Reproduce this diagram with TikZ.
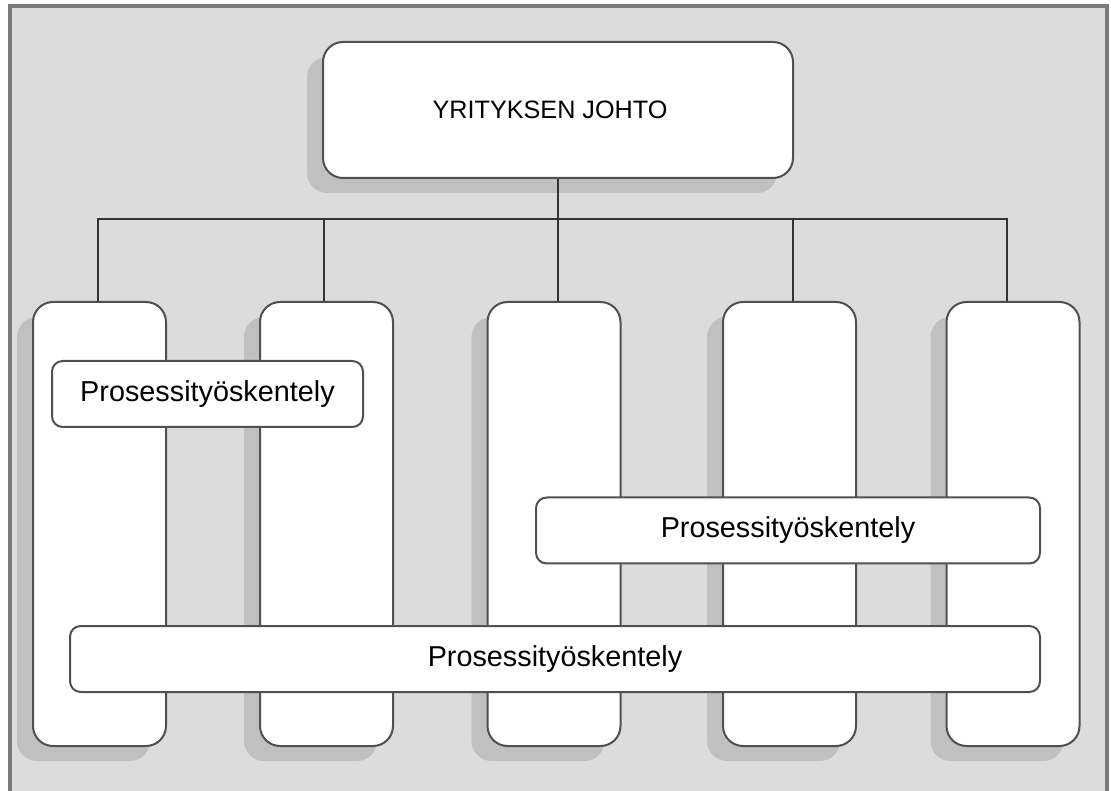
\documentclass[tikz,border=0pt]{standalone}
\usepackage{fontspec}
\setmainfont{Liberation Sans}
\usetikzlibrary{shadows}

\definecolor{paneback}{HTML}{DCDCDC}
\definecolor{shadowgray}{HTML}{C0C0C0}
\definecolor{edgegray}{HTML}{505050}
\definecolor{framegray}{HTML}{7A7A7A}
\definecolor{linegray}{HTML}{333333}

\tikzset{
  unitbox/.style={draw=edgegray, line width=1.5pt, fill=white, rounded corners=15pt,
    inner sep=0pt, anchor=center},
  shadowed/.style={general shadow={fill=shadowgray, shadow xshift=-12pt, shadow yshift=-11.25pt}},
  column/.style={unitbox, shadowed, minimum width=99.75pt, minimum height=333pt},
  headbox/.style={unitbox, shadowed, minimum width=352.5pt, minimum height=102pt,
    font=\fontsize{18.9pt}{22pt}\selectfont},
  procbox/.style={unitbox, rounded corners=8pt, minimum height=49.5pt,
    font=\fontsize{21.6pt}{25pt}\selectfont},
  link/.style={draw=linegray, line width=1.1pt}
}

\begin{document}
\begin{tikzpicture}[x=0.75pt, y=-0.75pt]
  \useasboundingbox (0,0) rectangle (1111,791);

  % window pane
  \fill[paneback] (10,6) rectangle (1107,791);
  \draw[framegray, line width=3pt] (10,791) -- (10,6) -- (1107,6) -- (1107,791);

  % management box
  \node[headbox] (top) at (558,110) {YRITYKSEN JOHTO\hspace*{12pt}};

  % functional columns
  \node[column] (c1) at (99.5,524) {};
  \node[column] (c2) at (326.5,524) {};
  \node[column] (c3) at (554,524) {};
  \node[column] (c4) at (789.5,524) {};
  \node[column] (c5) at (1013,524) {};

  % organisation lines (each drop meets its column slightly off centre)
  \coordinate (bus) at (558,219);
  \draw[link] (top.south) -- (bus);
  \foreach \c/\dx in {c1/-1.5,c2/-2.5,c3/4,c4/3.5,c5/-6}
    \draw[link] (bus) -| ([xshift=\dx*0.75pt]\c.north);

  % process work across the columns
  \node[procbox, minimum width=233.25pt] (p1) at (207.5,394) {Prosessityöskentely};
  \node[procbox, minimum width=378pt] (p2) at (788,530.5) {Prosessityöskentely};
  \node[procbox, minimum width=727.5pt] (p3) at (555,659) {Prosessityöskentely};
\end{tikzpicture}
\end{document}
